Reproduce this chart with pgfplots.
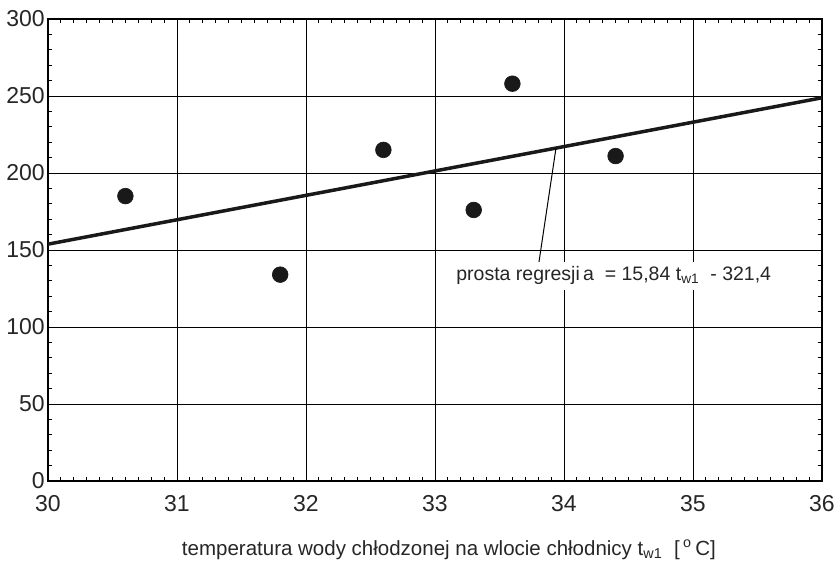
\documentclass[border=0pt]{standalone}
\usepackage{fontspec}
\setmainfont{Liberation Sans}
\usepackage{pgfplots}
\pgfplotsset{compat=1.18}
\begin{document}
\begin{tikzpicture}
% 1 px of the reference = 0.6pt
\useasboundingbox (0,0) rectangle (503.4pt,337.8pt);
\begin{axis}[
    at={(28.8pt,49.2pt)}, anchor=south west,
    width=464.4pt, height=277.2pt, scale only axis,
    xmin=30, xmax=36, ymin=0, ymax=300,
    xtick={30,31,...,36}, ytick={0,50,...,300},
    minor x tick num=9, minor y tick num=4,
    grid=major,
    major grid style={black, line width=0.5pt},
    axis line style={line width=0.9pt},
    tick align=inside,
    major tick length=0pt, minor tick length=2.4pt,
    minor tick style={line width=0.5pt, black},
    /pgf/number format/assume math mode=true,
    ticklabel style={font=\fontsize{13.8}{15}\selectfont, text=black!85},
    xticklabel style={inner sep=0pt, anchor=north, yshift=-8.4pt},
    yticklabel style={inner sep=0pt, anchor=east, xshift=-1.8pt},
    xlabel={temperatura wody chłodzonej na wlocie chłodnicy t\textsubscript{w1}\ \ [\,\textsuperscript{o}\,C]},
    xlabel style={at={(axis description cs:0.518,0)}, anchor=base, yshift=-44.4pt,
        font=\fontsize{12.3}{14}\selectfont, text=black!85},
    clip=false,
]
\addplot[line width=2.1pt, black!90] coordinates {(30,153.8) (36,248.84)};
\addplot[only marks, mark=*, mark size=4.7pt, black!90] coordinates {
    (30.6,185) (31.8,134) (32.6,215) (33.3,176) (33.6,258) (34.4,211)
};
\node[anchor=base west, inner xsep=2pt, inner ysep=3pt, fill=white, xshift=-2pt,
    font=\fontsize{11.7}{13}\selectfont, text=black!85]
    at (axis cs:33.163,129.9)
    {prosta regresji\,a\ \ = 15,84 t\textsubscript{w1}\ \ - 321,4};
\draw[line width=0.6pt] (axis cs:33.938,216.2) -- (axis cs:33.806,142.2);
\end{axis}
\end{tikzpicture}
\end{document}
